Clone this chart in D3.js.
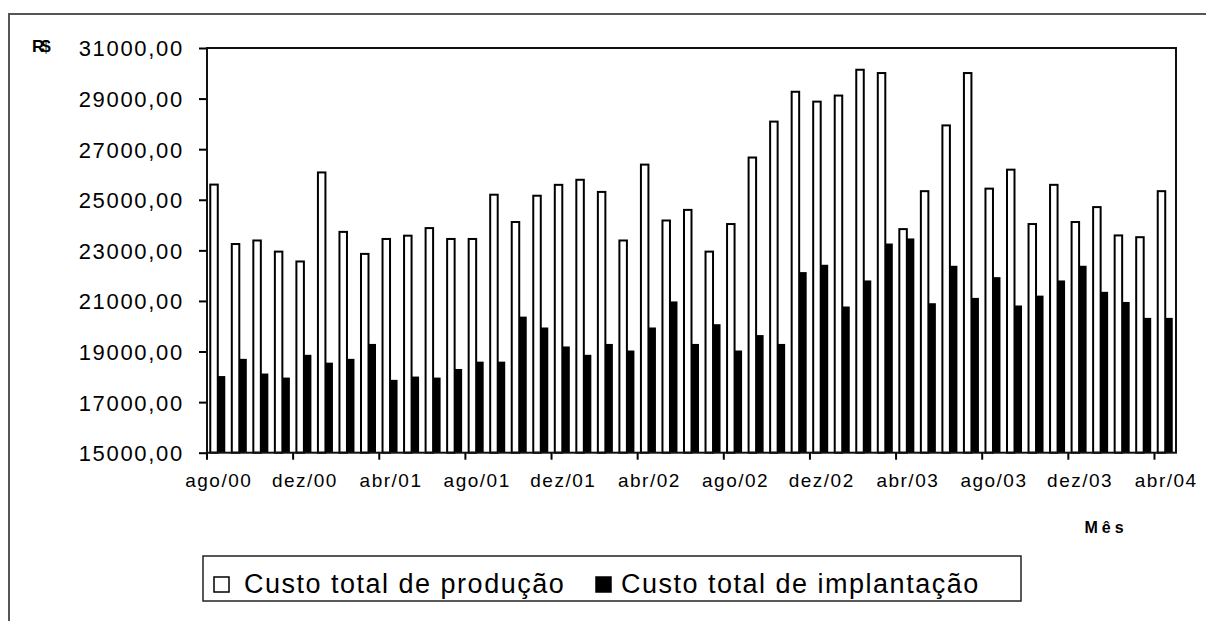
<!DOCTYPE html>
<html>
<head>
<meta charset="utf-8">
<script src="https://cdn.jsdelivr.net/npm/d3@7"></script>
<style>
  body { margin: 0; background: #fff; }
  text { font-family: "Liberation Sans", Arial, sans-serif; fill: #000; }
</style>
</head>
<body>
<svg id="chart" width="1206" height="621"></svg>
<script>
// meses (categorias)
const months = ["ago/00","set/00","out/00","nov/00","dez/00",
  "jan/01","fev/01","mar/01","abr/01","mai/01","jun/01","jul/01","ago/01","set/01","out/01","nov/01","dez/01",
  "jan/02","fev/02","mar/02","abr/02","mai/02","jun/02","jul/02","ago/02","set/02","out/02","nov/02","dez/02",
  "jan/03","fev/03","mar/03","abr/03","mai/03","jun/03","jul/03","ago/03","set/03","out/03","nov/03","dez/03",
  "jan/04","fev/04","mar/04","abr/04"]

const producao = [25600, 23250, 23390, 22950, 22560, 26080, 23730, 22860, 23450, 23580,
  23880, 23450, 23450, 25200, 24120, 25160, 25590, 25790, 25310, 23390,
  26390, 24180, 24600, 22950, 24040, 26670, 28090, 29270, 28880, 29120,
  30140, 30010, 23840, 25340, 27940, 30010, 25440, 26190, 24040, 25590,
  24120, 24710, 23590, 23520, 25340]

const implantacao = [18030, 18710, 18130, 17970, 18870, 18560, 18710, 19300, 17880, 18010,
  17970, 18310, 18600, 18600, 20380, 19950, 19200, 18870, 19300, 19040,
  19950, 20980, 19300, 20080, 19040, 19650, 19300, 22140, 22430, 20780,
  21810, 23270, 23470, 20910, 22390, 21120, 21940, 20820, 21210, 21810,
  22390, 21360, 20960, 20330, 20330]

const series = ["Custo total de produção", "Custo total de implantação"]
const yTicks = [15000, 17000, 19000, 21000, 23000, 25000, 27000, 29000, 31000]
const xLabelEvery = 4

let svg = d3.select("#chart")
let plot = { left: 207, right: 1176, top: 48, bottom: 452.7 }

// moldura externa
svg.append("rect")
    .attr("x", 9).attr("y", 14)
    .attr("width", 1400).attr("height", 800)
    .attr("fill", "none")
    .attr("stroke", "#555")
    .attr("stroke-width", 2)

// escalas
let x0 = d3.scaleBand()
    .domain(months)
    .range([plot.left, plot.right])
    .paddingInner(0.303)
    .paddingOuter(0.1515)

let x1 = d3.scaleBand()
    .domain(series)
    .range([0, x0.bandwidth()])

let y = d3.scaleLinear()
    .domain([15000, 31000])
    .range([plot.bottom, plot.top])

let fmt = d3.formatLocale({ decimal: ",", thousands: "", grouping: [3], currency: ["R$", ""] }).format(".2f")

// eixo Y
let yAxis = svg.append("g")
    .attr("transform", "translate(" + plot.left + ",0)")
    .call(d3.axisLeft(y).tickValues(yTicks).tickFormat(fmt).tickSize(8).tickPadding(15))
yAxis.select(".domain").remove()
yAxis.selectAll("line").attr("stroke", "#000").attr("stroke-width", 2)
yAxis.selectAll("text")
    .style("font-size", "22px")
    .style("letter-spacing", "1.7px")
    .attr("dy", "0.36em")

// eixo X: marcas entre categorias a cada 4 meses
let step = x0.step()
let tickMonths = months.filter((d, i) => i % xLabelEvery === 0)
let xg = svg.append("g")
xg.selectAll("line.xt")
    .data(tickMonths)
    .enter()
    .append("line")
    .attr("class", "xt")
    .attr("x1", d => x0(d) - x0.paddingOuter() * step)
    .attr("x2", d => x0(d) - x0.paddingOuter() * step)
    .attr("y1", plot.bottom)
    .attr("y2", plot.bottom + 7)
    .attr("stroke", "#000")
    .attr("stroke-width", 2)
xg.selectAll("text")
    .data(tickMonths)
    .enter()
    .append("text")
    .attr("x", d => x0(d) + x0.bandwidth() / 2 + 1)
    .attr("y", 487)
    .attr("text-anchor", "middle")
    .style("font-size", "19px")
    .style("letter-spacing", "1.5px")
    .text(d => d)

// barras
let groups = svg.append("g")
    .selectAll("g")
    .data(months.map((m, i) => ({ m: m, vals: [producao[i], implantacao[i]] })))
    .enter()
    .append("g")
    .attr("transform", d => "translate(" + x0(d.m) + ",0)")

groups.selectAll("rect")
    .data(d => d.vals.map((v, j) => ({ s: series[j], v: v })))
    .enter()
    .append("rect")
    .attr("x", d => x1(d.s))
    .attr("y", d => y(d.v))
    .attr("width", x1.bandwidth())
    .attr("height", d => plot.bottom - y(d.v))
    .attr("fill", d => d.s === series[0] ? "#fff" : "#000")
    .attr("stroke", "#000")
    .attr("stroke-width", d => d.s === series[0] ? 2 : 0)

// borda da área de plotagem
svg.append("rect")
    .attr("x", plot.left).attr("y", plot.top)
    .attr("width", plot.right - plot.left)
    .attr("height", plot.bottom - plot.top)
    .attr("fill", "none")
    .attr("stroke", "#111")
    .attr("stroke-width", 2)

// títulos
svg.append("text")
    .attr("x", 32).attr("y", 52)
    .style("font-size", "17px")
    .style("font-weight", "bold")
    .style("letter-spacing", "-3px")
    .text("R$")

svg.append("text")
    .attr("x", 1106).attr("y", 533)
    .attr("text-anchor", "middle")
    .style("font-size", "16px")
    .style("font-weight", "bold")
    .style("letter-spacing", "4px")
    .text("Mês")

// legenda
let legend = svg.append("g")
legend.append("rect")
    .attr("x", 203).attr("y", 556)
    .attr("width", 818).attr("height", 45)
    .attr("fill", "#fff")
    .attr("stroke", "#222")
    .attr("stroke-width", 1.5)

let legendX = [214, 596]
series.forEach(function (s, i) {
    legend.append("rect")
        .attr("x", legendX[i]).attr("y", 577)
        .attr("width", 15).attr("height", 15)
        .attr("fill", i === 0 ? "#fff" : "#000")
        .attr("stroke", "#000")
        .attr("stroke-width", 1.5)
    legend.append("text")
        .attr("x", legendX[i] + (i === 0 ? 30 : 25))
        .attr("y", 593)
        .style("font-size", "27px")
        .style("letter-spacing", "1.5px")
        .text(s)
})
</script>
</body>
</html>
